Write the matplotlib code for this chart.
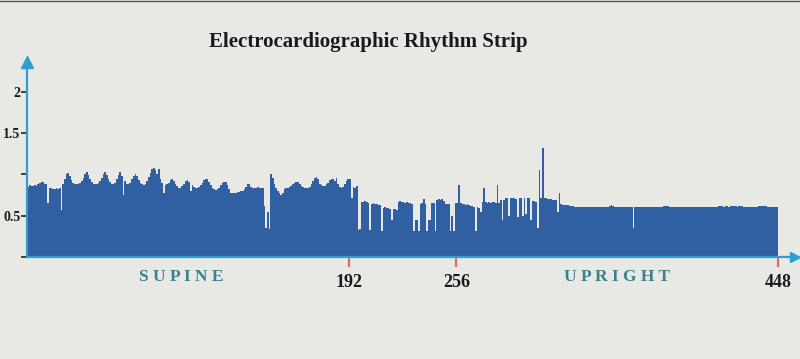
import numpy as np
import matplotlib.pyplot as plt

rr_supine = [
    0.85, 0.87, 0.86, 0.86, 0.87, 0.86, 0.88, 0.90, 0.91, 0.91,
    0.89, 0.88, 0.65, 0.84, 0.83, 0.82, 0.82, 0.83, 0.82, 0.84,
    0.57, 0.88, 0.95, 1.00, 1.02, 0.98, 0.93, 0.90, 0.89, 0.88,
    0.89, 0.90, 0.92, 0.96, 1.01, 1.03, 0.99, 0.94, 0.91, 0.89,
    0.88, 0.89, 0.90, 0.92, 0.96, 1.00, 1.03, 0.99, 0.94, 0.91,
    0.89, 0.88, 0.90, 0.94, 0.99, 1.03, 0.98, 0.75, 0.92, 0.89,
    0.88, 0.90, 0.94, 0.98, 1.01, 0.98, 0.93, 0.90, 0.88, 0.87,
    0.89, 0.92, 0.97, 1.02, 1.06, 1.08, 1.05, 1.00, 1.06, 0.95,
    0.90, 0.77, 0.87, 0.88, 0.90, 0.93, 0.94, 0.92, 0.89, 0.86,
    0.84, 0.84, 0.86, 0.89, 0.92, 0.93, 0.91, 0.80, 0.87, 0.85,
    0.84, 0.84, 0.85, 0.87, 0.90, 0.93, 0.94, 0.94, 0.91, 0.87,
    0.84, 0.82, 0.81, 0.82, 0.84, 0.87, 0.90, 0.91, 0.91, 0.87,
    0.82, 0.78, 0.77, 0.77, 0.78, 0.79, 0.79, 0.80, 0.80, 0.82,
    0.85, 0.88, 0.88, 0.85, 0.84, 0.84, 0.84, 0.85, 0.84, 0.84,
    0.84, 0.62, 0.35, 0.55, 0.34, 1.00, 0.96, 0.88, 0.84, 0.80,
    0.77, 0.75, 0.78, 0.82, 0.84, 0.84, 0.85, 0.86, 0.88, 0.90,
    0.91, 0.91, 0.89, 0.86, 0.85, 0.84, 0.84, 0.84, 0.85, 0.88,
    0.92, 0.96, 0.97, 0.94, 0.89, 0.87, 0.86, 0.86, 0.88, 0.90,
    0.93, 0.95, 0.95, 0.92, 0.96, 0.88, 0.85, 0.84, 0.85, 0.88,
    0.92, 0.94, 0.94, 0.72, 0.85, 0.84, 0.86, 0.33, 0.34,
]

rr_upright = [
    0.67, 0.67, 0.68, 0.67, 0.66, 0.33, 0.64, 0.65, 0.64, 0.64,
    0.63, 0.63, 0.32, 0.59, 0.60, 0.59, 0.59, 0.58, 0.45, 0.58,
    0.58, 0.57, 0.67, 0.68, 0.67, 0.67, 0.66, 0.67, 0.66, 0.65,
    0.64, 0.32, 0.45, 0.45, 0.32, 0.64, 0.65, 0.70, 0.64, 0.32,
    0.45, 0.45, 0.66, 0.66, 0.32, 0.69, 0.70, 0.69, 0.70, 0.68,
    0.64, 0.64, 0.64, 0.32, 0.50, 0.32, 0.65, 0.66, 0.87, 0.66,
    0.64, 0.64, 0.63, 0.64, 0.63, 0.62, 0.62, 0.60, 0.32, 0.60,
    0.59, 0.55, 0.67, 0.84, 0.67, 0.66, 0.67, 0.66, 0.67, 0.67,
    0.66, 0.87, 0.66, 0.69, 0.45, 0.69, 0.72, 0.72, 0.50, 0.72,
    0.71, 0.72, 0.70, 0.48, 0.72, 0.72, 0.50, 0.72, 0.52, 0.72,
    0.71, 0.45, 0.68, 0.68, 0.67, 0.35, 1.05, 0.72, 1.32, 0.72,
    0.71, 0.70, 0.70, 0.70, 0.69, 0.69, 0.69, 0.55, 0.78, 0.64,
    0.63, 0.63, 0.63, 0.63, 0.62, 0.62, 0.62,
    0.61, 0.61, 0.61, 0.61, 0.61, 0.61, 0.61, 0.61, 0.61, 0.61,
    0.61, 0.61, 0.61, 0.61, 0.61, 0.61, 0.61, 0.61, 0.61, 0.61,
    0.61, 0.62, 0.63, 0.62, 0.61, 0.61, 0.61, 0.61, 0.61, 0.61,
    0.61, 0.61, 0.61, 0.61, 0.61, 0.35, 0.61, 0.61, 0.61, 0.61,
    0.61, 0.61, 0.61, 0.61, 0.61, 0.61, 0.61, 0.61, 0.61, 0.61,
    0.61, 0.61, 0.61, 0.62, 0.62, 0.62, 0.62, 0.61, 0.61, 0.61,
    0.61, 0.61, 0.61, 0.61, 0.61, 0.61, 0.61, 0.61, 0.61, 0.61,
    0.61, 0.61, 0.61, 0.61, 0.61, 0.61, 0.61, 0.61, 0.61, 0.61,
    0.61, 0.61, 0.61, 0.61, 0.61, 0.61, 0.62, 0.62, 0.62, 0.61,
    0.62, 0.62, 0.61, 0.62, 0.62, 0.62, 0.62, 0.61, 0.62, 0.62,
    0.62, 0.61, 0.61, 0.61, 0.61, 0.61, 0.61, 0.61, 0.61, 0.61,
    0.62, 0.62, 0.62, 0.62, 0.62, 0.61, 0.61, 0.61, 0.61, 0.61,
    0.61, 0.61,
]

x_ticks = [192, 256, 448]
y_ticks = [0, 0.5, 1, 1.5, 2]
y_labels = ['', '0.5', '', '1.5', '2']
phase_labels = [(92, 'S U P I N E'), (352, 'U P R I G H T')]

rr = np.array(rr_supine + rr_upright)
edges = np.arange(len(rr) + 1)

paper = '#e8e8e4'
fill_col = '#3160a2'
axis_col = '#2e9fcf'
serif = 'Liberation Serif'

fig = plt.figure(figsize=(8, 3.59), dpi=100, facecolor=paper)
ax = fig.add_axes([0.034, 0.284, 0.96, 0.543])
ax.set_facecolor(paper)

# the rhythm strip as a filled step profile
ax.stairs(rr, edges, fill=True, color=fill_col, linewidth=0)

ax.set_xlim(0, 458)
ax.set_ylim(0, 2.36)

# only left and bottom axis lines, with arrow heads
for s in ['top', 'right']:
    ax.spines[s].set_visible(False)
for s in ['left', 'bottom']:
    ax.spines[s].set_color(axis_col)
    ax.spines[s].set_linewidth(1.6)
ax.plot(1, 0, '>', color=axis_col, markersize=7, transform=ax.transAxes, clip_on=False)
ax.plot(0, 1, '^', color=axis_col, markersize=9, transform=ax.transAxes, clip_on=False)

# x ticks in red, bold black numbers
ax.set_xticks(x_ticks)
ax.set_xticklabels([str(t) for t in x_ticks], fontfamily=serif, fontweight='bold', fontsize=13)
ax.tick_params(axis='x', color='#e06a64', length=7, width=1.6, pad=5, labelcolor='#1a1a1a')

ax.set_yticks(y_ticks)
ax.set_yticklabels(y_labels, fontfamily=serif, fontweight='bold', fontsize=10)
ax.tick_params(axis='y', color='#333333', length=4, width=1.3, pad=1, labelcolor='#1a1a1a')

for xpos, txt in phase_labels:
    ax.text(xpos, -0.1, txt, ha='center', va='center', fontfamily=serif, fontweight='bold',
            fontsize=12.5, color='#3a7f8e', transform=ax.get_xaxis_transform(), clip_on=False)

fig.text(0.46, 0.883, 'Electrocardiographic Rhythm Strip', ha='center', va='center',
         fontfamily=serif, fontweight='bold', fontsize=15, color='#1a1a1a')

# thin edge line at the top of the page
fig.add_artist(plt.Line2D([0, 1], [0.997, 0.997], color='#555555', linewidth=1))

fig.savefig('out.png', dpi=100, facecolor=paper)
